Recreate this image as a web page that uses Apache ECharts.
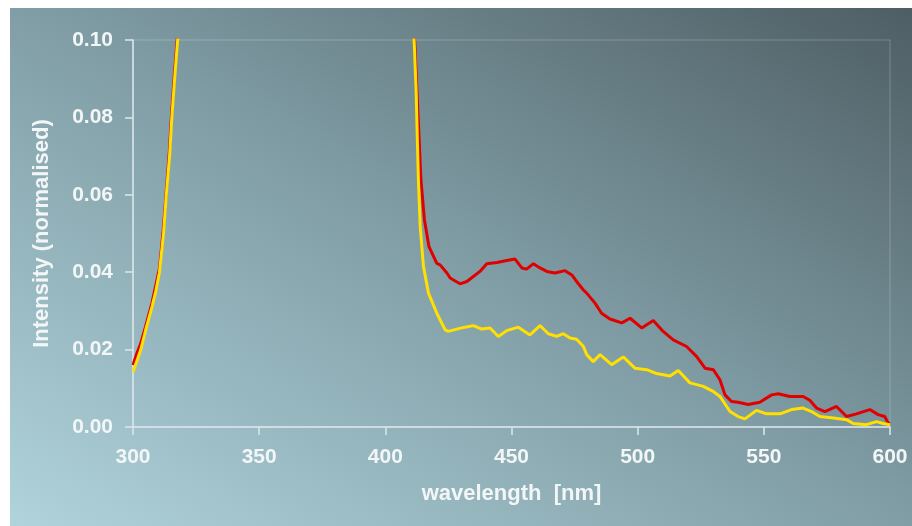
<!DOCTYPE html>
<html>
<head>
<meta charset="utf-8">
<title>Intensity spectrum</title>
<script src="https://cdn.jsdelivr.net/npm/echarts@6/dist/echarts.min.js"></script>
<style>
  html, body { margin: 0; padding: 0; background: #ffffff; }
  #chart { position: absolute; left: 10px; top: 8px; width: 902px; height: 518px; }
</style>
</head>
<body>
<div id="chart"></div>
<script>
// x axis ticks (wavelength, nm)
var xTicks = [300, 350, 400, 450, 500, 550, 600];
// y axis ticks (normalised intensity)
var yTicks = [0.00, 0.02, 0.04, 0.06, 0.08, 0.10];

// red curve: wavelength / intensity, null = gap (off scale)
var redWl = [300, 301.5, 303, 305, 307.5, 310.5, 312, 313.2, 314.4, 315.3, 316.4, 317.5, 318.3,
  365,
  411.2, 411.6, 412.5, 413.4, 414.1, 415.5, 417.3, 420.4, 421.7, 424.4, 425.7, 427.0, 429.6,
  432.3, 434.9, 437.5, 440.2, 444.2, 448.1, 451.4, 454.1, 456.0, 458.7, 461.3, 464.0, 467.2,
  471.2, 473.9, 475.8, 478.5, 479.8, 483.1, 485.7, 489.0, 493.7, 497.0, 501.6, 506.2, 510.1,
  514.1, 519.4, 523.4, 526.7, 530.0, 532.6, 534.6, 537.2, 539.8, 543.8, 548.4, 553.1, 555.7,
  560.3, 565.6, 568.2, 570.9, 574.2, 578.8, 582.8, 586.7, 592.0, 595.3, 597.9, 599.3, 600];
var redVal = [0.0160, 0.019, 0.0215, 0.026, 0.032, 0.041, 0.051, 0.061, 0.071, 0.081, 0.091, 0.100, 0.108,
  null,
  0.108, 0.100, 0.0871, 0.0742, 0.0639, 0.0535, 0.0466, 0.0423, 0.0419, 0.0398, 0.0385, 0.0380, 0.0370,
  0.0376, 0.0389, 0.0402, 0.0422, 0.0425, 0.0430, 0.0434, 0.0411, 0.0408, 0.0422, 0.0411, 0.0402, 0.0398,
  0.0404, 0.0393, 0.0376, 0.0354, 0.0346, 0.0320, 0.0294, 0.0279, 0.0269, 0.0281, 0.0256, 0.0275, 0.0247,
  0.0225, 0.0208, 0.0182, 0.0152, 0.0148, 0.0122, 0.0083, 0.0066, 0.0064, 0.0058, 0.0064, 0.0083, 0.0086,
  0.0079, 0.0079, 0.0069, 0.0049, 0.0040, 0.0053, 0.0027, 0.0034, 0.0045, 0.0032, 0.0027, 0.0010, 0.0008];

// yellow curve
var yellowWl = [300, 301.5, 303.1, 305, 307.5, 309, 310.5, 312.1, 313.2, 314.5, 315.4, 316.5, 317.7, 318.5,
  365,
  411.1, 411.4, 412.2, 412.7, 413.1, 413.8, 415.1, 417.1, 420.4, 423.7, 425.0, 425.7, 428.3, 431.6,
  434.9, 438.2, 441.5, 444.8, 448.1, 452.7, 457.3, 461.3, 464.6, 467.9, 470.5, 473.2, 475.8, 478.5,
  479.8, 482.4, 485.1, 489.7, 494.3, 498.9, 503.6, 507.5, 512.8, 516.1, 520.7, 526.0, 529.9, 532.6,
  536.6, 539.8, 542.5, 547.1, 551.1, 556.4, 561.0, 565.6, 568.9, 572.2, 577.5, 582.8, 585.4, 590.7,
  594.7, 597.3, 600];
var yellowVal = [0.0142, 0.017, 0.020, 0.025, 0.031, 0.035, 0.040, 0.050, 0.060, 0.070, 0.080, 0.090, 0.100, 0.108,
  null,
  0.108, 0.100, 0.087, 0.074, 0.064, 0.052, 0.0415, 0.0346, 0.0294, 0.0251, 0.0247, 0.0243, 0.0253, 0.0258,
  0.0262, 0.0253, 0.0256, 0.0234, 0.0249, 0.0258, 0.0238, 0.0262, 0.0241, 0.0234, 0.0241, 0.0230, 0.0227, 0.0208,
  0.0187, 0.0169, 0.0187, 0.0161, 0.0181, 0.0152, 0.0148, 0.0138, 0.0132, 0.0146, 0.0114, 0.0105, 0.0092, 0.0079,
  0.0040, 0.0027, 0.0021, 0.0043, 0.0034, 0.0034, 0.0045, 0.0049, 0.0040, 0.0027, 0.0023, 0.0019, 0.0009, 0.0006,
  0.0014, 0.0009, 0.0006];

function pairs(wl, val) {
  return wl.map(function (w, i) { return [w, val[i] === null ? '-' : val[i]]; });
}

var chart = echarts.init(document.getElementById('chart'));
var textFont = '"Liberation Sans", Arial, Helvetica, sans-serif';

var option = {
  animation: false,
  backgroundColor: {
    type: 'linear', x: 0, y: 1, x2: 0.496, y2: -0.504,
    colorStops: [
      { offset: 0, color: '#b0d3dc' },
      { offset: 0.5, color: '#819ea6' },
      { offset: 1, color: '#4e5e64' }
    ]
  },
  grid: {
    left: 123, top: 32, right: 22, bottom: 99,
    show: true,
    borderColor: 'rgba(255,255,255,0.22)',
    borderWidth: 1
  },
  xAxis: {
    type: 'value',
    min: xTicks[0],
    max: xTicks[xTicks.length - 1],
    interval: 50,
    name: 'wavelength  [nm]',
    nameLocation: 'middle',
    nameGap: 56,
    nameTextStyle: { color: '#f2f6f6', fontSize: 22, fontWeight: 'bold', fontFamily: textFont },
    axisLine: { show: true, lineStyle: { color: '#dbe8ec', width: 1.5 } },
    axisTick: { show: true, inside: false, length: 8, lineStyle: { color: '#dbe8ec', width: 1.5 } },
    axisLabel: { color: '#f2f6f6', fontSize: 21, fontWeight: 'bold', fontFamily: textFont, margin: 20 },
    splitLine: { show: false }
  },
  yAxis: {
    type: 'value',
    min: yTicks[0],
    max: yTicks[yTicks.length - 1],
    interval: 0.02,
    name: 'Intensity (normalised)',
    nameLocation: 'middle',
    nameGap: 80,
    nameTextStyle: { color: '#f2f6f6', fontSize: 22, fontWeight: 'bold', fontFamily: textFont },
    axisLine: { show: true, lineStyle: { color: '#dbe8ec', width: 1.5 } },
    axisTick: { show: true, inside: false, length: 8, lineStyle: { color: '#dbe8ec', width: 1.5 } },
    axisLabel: {
      color: '#f2f6f6', fontSize: 21, fontWeight: 'bold', fontFamily: textFont, margin: 20,
      formatter: function (v) { return v.toFixed(2); }
    },
    splitLine: { show: false }
  },
  series: [
    {
      name: 'red',
      type: 'line',
      data: pairs(redWl, redVal),
      showSymbol: false,
      symbol: 'none',
      connectNulls: false,
      clip: true,
      lineStyle: { color: '#e00000', width: 3 }
    },
    {
      name: 'yellow',
      type: 'line',
      data: pairs(yellowWl, yellowVal),
      showSymbol: false,
      symbol: 'none',
      connectNulls: false,
      clip: true,
      lineStyle: { color: '#ffe000', width: 3 }
    }
  ]
};

chart.setOption(option);
</script>
</body>
</html>
